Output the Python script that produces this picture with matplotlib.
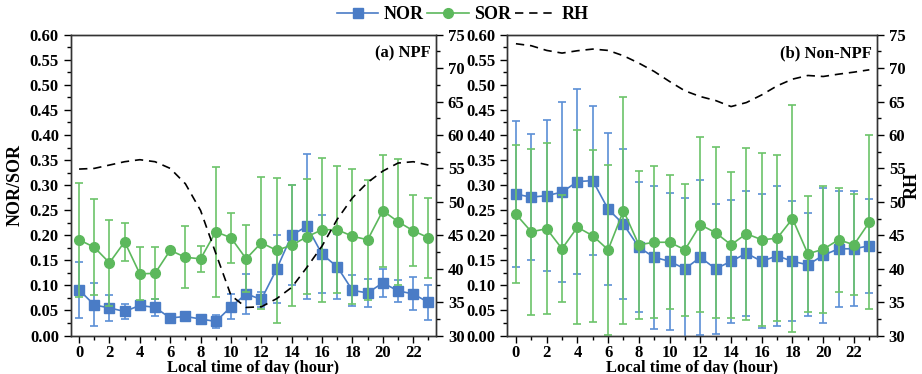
import numpy as np
import matplotlib
matplotlib.use("Agg")
import matplotlib.pyplot as plt
from matplotlib.ticker import MultipleLocator
from matplotlib.lines import Line2D

plt.rcParams['font.family'] = ['Liberation Serif', 'DejaVu Serif']
plt.rcParams['font.weight'] = 'bold'

hours = np.arange(24)

# NPF days
npf_nor = [0.091, 0.061, 0.055, 0.048, 0.060, 0.056, 0.035, 0.038, 0.033, 0.028, 0.057, 0.083,
           0.072, 0.132, 0.200, 0.218, 0.162, 0.137, 0.090, 0.085, 0.105, 0.089, 0.083, 0.066]
npf_nor_err = [0.056, 0.043, 0.026, 0.015, 0.005, 0.017, 0.004, 0.004, 0.003, 0.013, 0.025, 0.040,
               0.015, 0.068, 0.100, 0.145, 0.078, 0.065, 0.031, 0.028, 0.028, 0.022, 0.033, 0.035]
npf_sor = [0.191, 0.176, 0.145, 0.187, 0.123, 0.124, 0.170, 0.156, 0.153, 0.207, 0.195, 0.153,
           0.185, 0.170, 0.180, 0.197, 0.211, 0.211, 0.198, 0.191, 0.249, 0.227, 0.209, 0.195]
npf_sor_err = [0.114, 0.096, 0.086, 0.038, 0.053, 0.052, 0.003, 0.062, 0.026, 0.130, 0.050, 0.067,
               0.132, 0.145, 0.121, 0.115, 0.144, 0.127, 0.135, 0.120, 0.112, 0.126, 0.071, 0.080]
npf_rh = [54.9, 55.0, 55.5, 56.0, 56.3, 56.0, 55.0, 52.7, 48.7, 42.3, 36.0, 34.2,
          34.3, 35.5, 37.2, 40.2, 43.4, 47.4, 50.6, 52.9, 54.6, 55.8, 56.0, 55.5]

# Non-NPF days
non_nor = [0.282, 0.276, 0.279, 0.286, 0.307, 0.309, 0.252, 0.222, 0.176, 0.156, 0.148, 0.133,
           0.156, 0.133, 0.148, 0.164, 0.148, 0.159, 0.148, 0.141, 0.160, 0.173, 0.173, 0.179]
non_nor_err = [0.145, 0.125, 0.150, 0.180, 0.185, 0.148, 0.152, 0.150, 0.130, 0.143, 0.137, 0.141,
               0.155, 0.130, 0.123, 0.125, 0.134, 0.140, 0.120, 0.103, 0.135, 0.116, 0.115, 0.094]
non_sor = [0.242, 0.207, 0.213, 0.173, 0.216, 0.199, 0.171, 0.249, 0.181, 0.186, 0.186, 0.171,
           0.221, 0.205, 0.181, 0.203, 0.191, 0.194, 0.233, 0.163, 0.172, 0.191, 0.181, 0.226]
non_sor_err = [0.138, 0.166, 0.170, 0.107, 0.193, 0.172, 0.170, 0.226, 0.148, 0.152, 0.134, 0.132,
               0.174, 0.171, 0.146, 0.172, 0.173, 0.166, 0.226, 0.116, 0.127, 0.104, 0.101, 0.173]
non_rh = [73.65, 73.35, 72.65, 72.25, 72.6, 72.85, 72.65, 71.85, 70.75, 69.5, 68.0, 66.6,
          65.75, 65.15, 64.25, 64.85, 66.0, 67.35, 68.35, 68.9, 68.75, 69.1, 69.4, 69.75]

blue = '#4a7cc6'
blue_err = '#5b8fd6'
green = '#5cb85c'
green_err = '#6cc46a'

fig = plt.figure(figsize=(9.22, 3.74), dpi=100)
ax_a = fig.add_axes([0.0767, 0.1029, 0.3962, 0.8043])
ax_b = fig.add_axes([0.5504, 0.1029, 0.4008, 0.8043])


def draw_panel(ax, nor, nor_err, sor, sor_err, rh, title):
    ax.errorbar(hours, nor, yerr=nor_err, color=blue, ecolor=blue_err, marker='s',
                markersize=6.5, lw=1.2, elinewidth=1.2, capsize=3, capthick=1.2, zorder=3)
    ax.errorbar(hours, sor, yerr=sor_err, color=green, ecolor=green_err, marker='o',
                markersize=7, lw=1.2, elinewidth=1.2, capsize=3, capthick=1.2, zorder=4)
    ax.set_xlim(-0.55, 23.5)
    ax.set_ylim(0, 0.6)
    ax.xaxis.set_major_locator(MultipleLocator(2))
    ax.xaxis.set_minor_locator(MultipleLocator(1))
    ax.yaxis.set_major_locator(MultipleLocator(0.05))
    ax.yaxis.set_minor_locator(MultipleLocator(0.025))
    ax.yaxis.set_major_formatter(plt.FormatStrFormatter('%.2f'))
    ax.tick_params(which='major', direction='out', length=5, width=1, labelsize=12)
    ax.tick_params(which='minor', direction='out', length=3, width=1)
    ax.tick_params(axis='x', which='major', pad=1.5)
    ax.set_xlabel('Local time of day (hour)', fontsize=12, fontweight='bold', labelpad=-0.5)
    ax.text(0.985, 0.965, title, transform=ax.transAxes, ha='right', va='top',
            fontsize=12, fontweight='bold')

    ax2 = ax.twinx()
    ax2.plot(hours, rh, color='black', lw=1.2, dashes=(5, 3.5))
    ax2.set_ylim(30, 75)
    ax2.yaxis.set_major_locator(MultipleLocator(5))
    ax2.yaxis.set_minor_locator(MultipleLocator(2.5))
    ax2.tick_params(which='major', direction='out', length=5, width=1, labelsize=12)
    ax2.tick_params(which='minor', direction='out', length=3, width=1)
    for a in (ax, ax2):
        for s in a.spines.values():
            s.set_linewidth(1.0)
            s.set_color('#333333')
    return ax2


draw_panel(ax_a, npf_nor, npf_nor_err, npf_sor, npf_sor_err, npf_rh, '(a) NPF')
twin_b = draw_panel(ax_b, non_nor, non_nor_err, non_sor, non_sor_err, non_rh, '(b) Non-NPF')

ax_a.set_ylabel('NOR/SOR', fontsize=13, fontweight='bold', labelpad=4)
twin_b.set_ylabel('RH', fontsize=13, fontweight='bold')
twin_b.yaxis.set_label_coords(1.072, 0.5)

# legend keys: plain line + marker
keys = [Line2D([], [], color=blue, marker='s', markersize=6.5, lw=1.2),
        Line2D([], [], color=green, marker='o', markersize=7, lw=1.2),
        Line2D([], [], color='black', lw=1.2, dashes=(5, 3.5))]
fig.legend(keys, ['NOR', 'SOR', 'RH'], loc='center', bbox_to_anchor=(0.502, 0.96),
           ncol=3, frameon=False, fontsize=13, handlelength=2.3, handletextpad=0.3,
           columnspacing=0.2, borderpad=0)

fig.savefig('out.png', dpi=100)
